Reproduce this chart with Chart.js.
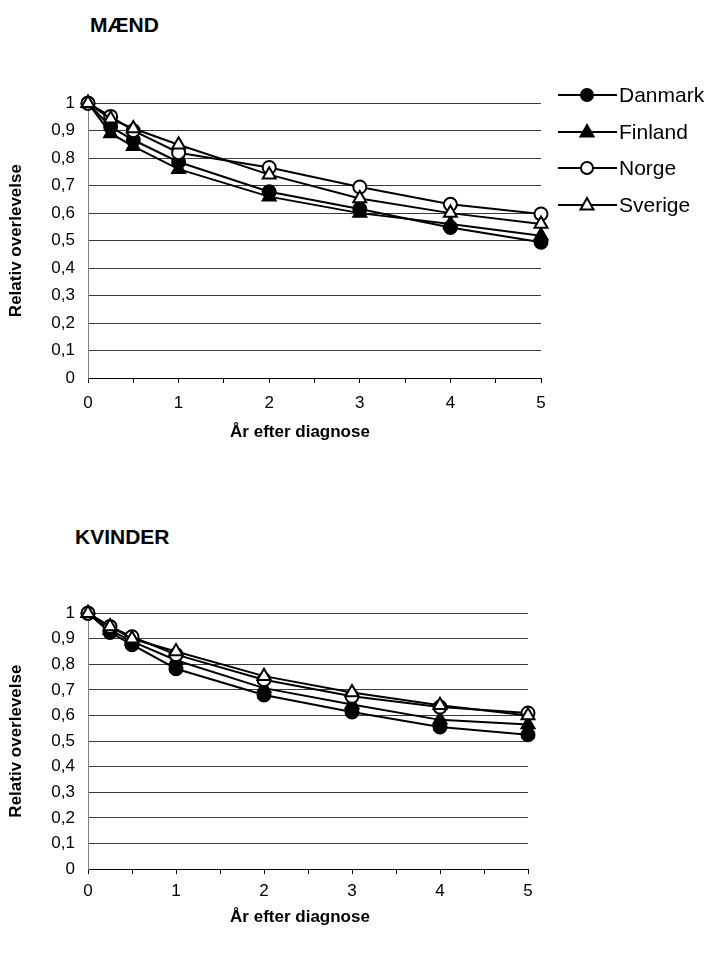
<!DOCTYPE html>
<html>
<head>
  <meta charset="utf-8">
  <title>Relativ overlevelse</title>
  <script src="https://cdn.jsdelivr.net/npm/chart.js"></script>
  <style>
    body { margin: 0; background: #fff; font-family: "Liberation Sans", Arial, sans-serif; color: #000; }
    #page { position: relative; width: 707px; height: 975px; overflow: hidden; }
    .title { position: absolute; font-weight: bold; font-size: 21px; line-height: 24px; }
    .xtitle { position: absolute; left: 200px; width: 200px; text-align: center; font-weight: bold; font-size: 17px; line-height: 20px; }
    canvas { position: absolute; left: 0; }
    #legend { position: absolute; left: 558px; top: 77px; }
    .item { height: 36.5px; display: flex; align-items: center; font-size: 21px; }
    .item svg { margin-right: 2px; }
  </style>
</head>
<body>
<div id="page">
  <div class="title" style="left:90px; top:13px;">MÆND</div>
  <canvas id="maend" width="560" height="367" style="top:80px;"></canvas>
  <div class="xtitle" style="top:422px;">År efter diagnose</div>
  <div id="legend"></div>

  <div class="title" style="left:75px; top:525px;">KVINDER</div>
  <canvas id="kvinder" width="560" height="343" style="top:590px;"></canvas>
  <div class="xtitle" style="top:907px;">År efter diagnose</div>
</div>

<script>
  // Years after diagnosis
  const years = [0, 0.25, 0.5, 1, 2, 3, 4, 5];
  const countries = ['Danmark', 'Finland', 'Norge', 'Sverige'];

  // Men
  const maendDanmark = [1, 0.914, 0.866, 0.786, 0.678, 0.615, 0.548, 0.494];
  const maendFinland = [1, 0.89, 0.843, 0.76, 0.66, 0.60, 0.56, 0.518];
  const maendNorge   = [1, 0.952, 0.90, 0.82, 0.766, 0.695, 0.632, 0.597];
  const maendSverige = [1, 0.943, 0.908, 0.849, 0.74, 0.653, 0.60, 0.56];

  // Women
  const kvinderDanmark = [1, 0.925, 0.877, 0.783, 0.68, 0.614, 0.555, 0.525];
  const kvinderFinland = [1, 0.934, 0.89, 0.816, 0.707, 0.643, 0.583, 0.565];
  const kvinderNorge   = [1, 0.948, 0.908, 0.838, 0.74, 0.675, 0.633, 0.61];
  const kvinderSverige = [1, 0.948, 0.90, 0.85, 0.754, 0.69, 0.64, 0.60];

  const yTicks = [0, 0.1, 0.2, 0.3, 0.4, 0.5, 0.6, 0.7, 0.8, 0.9, 1];

  // marker per country
  const markers = [
    { style: 'circle', fill: '#000', r: 6.5 },
    { style: 'triangle', fill: '#000', r: 7.5 },
    { style: 'circle', fill: '#fff', r: 6.5 },
    { style: 'triangle', fill: '#fff', r: 7.5 }
  ];

  Chart.defaults.font.family = '"Liberation Sans", Arial, sans-serif';
  Chart.defaults.color = '#000';

  function fmt(v) {
    return String(Math.round(v * 10) / 10).replace('.', ',');
  }

  function makeChart(id, series, opts) {
    const datasets = series.map((vals, i) => ({
      label: countries[i],
      data: years.map((x, j) => ({ x: x, y: vals[j] })),
      borderColor: '#000',
      borderWidth: 2,
      pointStyle: markers[i].style,
      pointRadius: markers[i].r,
      pointBackgroundColor: markers[i].fill,
      pointBorderColor: '#000',
      pointBorderWidth: 2,
      tension: 0,
      clip: false,
      order: 4 - i
    }));

    return new Chart(document.getElementById(id), {
      type: 'line',
      data: { datasets: datasets },
      options: {
        responsive: false,
        animation: false,
        layout: { padding: { top: opts.top, right: opts.right, left: 0, bottom: 0 } },
        plugins: { legend: { display: false }, tooltip: { enabled: false } },
        scales: {
          x: {
            type: 'linear',
            min: 0,
            max: 5,
            afterFit: s => { s.height = opts.xHeight; },
            ticks: {
              stepSize: 0.5,
              autoSkip: false,
              maxRotation: 0,
              padding: opts.tickPad,
              font: { size: 17 },
              callback: v => Number.isInteger(v) ? String(v) : ''
            },
            grid: { drawOnChartArea: false, tickLength: 5, color: '#000' },
            border: { color: '#000', width: 1 }
          },
          y: {
            min: 0,
            max: 1,
            afterFit: s => { s.width = 88; },
            afterBuildTicks: s => { s.ticks = yTicks.map(v => ({ value: v })); },
            ticks: {
              padding: 13,
              font: { size: 17 },
              callback: v => fmt(v)
            },
            grid: { drawTicks: false, color: '#3a3a3a', lineWidth: 1 },
            border: { color: '#808080', width: 1 },
            title: {
              display: true,
              text: 'Relativ overlevelse',
              font: { size: 17, weight: 'bold' },
              padding: { top: 6, bottom: 0 }
            }
          }
        }
      }
    });
  }

  makeChart('maend', [maendDanmark, maendFinland, maendNorge, maendSverige],
    { top: 16, right: 19, xHeight: 69, tickPad: 10 });
  makeChart('kvinder', [kvinderDanmark, kvinderFinland, kvinderNorge, kvinderSverige],
    { top: 17, right: 32, xHeight: 64, tickPad: 7 });

  // legend (line with marker + name)
  const legend = document.getElementById('legend');
  countries.forEach((name, i) => {
    const m = markers[i];
    let shape;
    if (m.style === 'circle') {
      shape = `<circle cx="29" cy="10" r="6" fill="${m.fill}" stroke="#000" stroke-width="2"/>`;
    } else {
      shape = `<polygon points="29,3 35.5,14.5 22.5,14.5" fill="${m.fill}" stroke="#000" stroke-width="2" stroke-linejoin="miter"/>`;
    }
    const row = document.createElement('div');
    row.className = 'item';
    row.innerHTML = `<svg width="59" height="20"><line x1="0" y1="10" x2="59" y2="10" stroke="#000" stroke-width="2"/>${shape}</svg><span>${name}</span>`;
    legend.appendChild(row);
  });
</script>
</body>
</html>
